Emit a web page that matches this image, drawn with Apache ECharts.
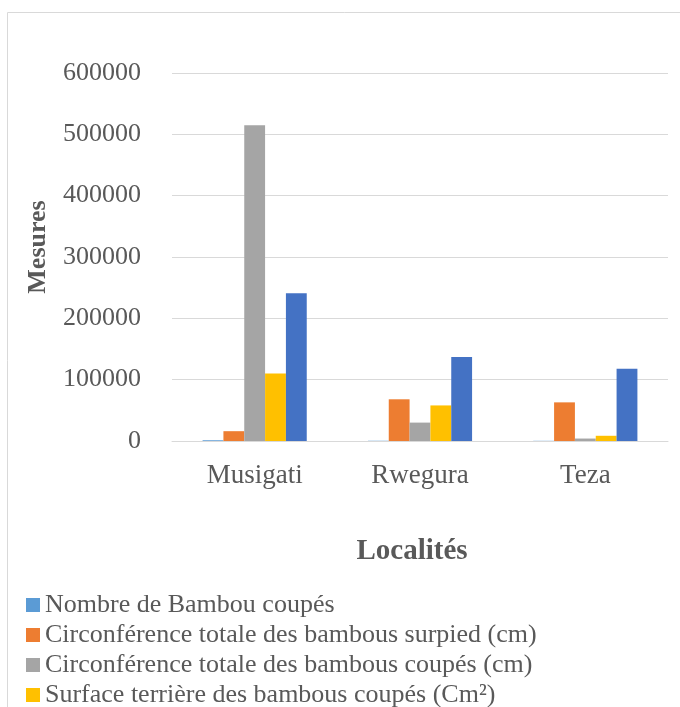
<!DOCTYPE html>
<html>
<head>
<meta charset="utf-8">
<script src="https://cdn.jsdelivr.net/npm/echarts@6/dist/echarts.min.js"></script>
<style>
  html, body { margin: 0; padding: 0; background: #fff; }
  #chart { width: 680px; height: 707px; }
</style>
</head>
<body>
<div id="chart"></div>
<script>
const categories = ['Musigati', 'Rwegura', 'Teza']
const seriesNames = [
  'Nombre de Bambou coupés',
  'Circonférence totale des bambous surpied (cm)',
  'Circonférence totale des bambous coupés (cm)',
  'Surface terrière des bambous coupés (Cm²)',
  'Surface terrière des bambous surpied (Cm²)',
]
const nombreCoupes = [1200, 400, 300]
const circSurpied = [16000, 68000, 63000]
const circCoupes = [515000, 30000, 4000]
const surfCoupes = [110000, 58000, 8500]
const surfSurpied = [241000, 137000, 118000]
const colors = ['#5B9BD5', '#ED7D31', '#A5A5A5', '#FFC000', '#4472C4']

const serif = '"Liberation Serif", "DejaVu Serif", serif'
const values = [nombreCoupes, circSurpied, circCoupes, surfCoupes, surfSurpied]

const chart = echarts.init(document.getElementById('chart'))
chart.setOption({
  animation: false,
  color: colors,
  textStyle: { fontFamily: serif },
  graphic: [
    {
      type: 'rect',
      shape: { x: 7.5, y: 12.5, width: 700, height: 720 },
      style: { fill: 'none', stroke: '#d9d9d9', lineWidth: 1 },
      silent: true,
    },
  ],
  grid: { left: 172, right: 12, top: 73, bottom: 266 },
  legend: {
    orient: 'vertical',
    left: 26,
    top: 590,
    padding: 0,
    height: 400,
    itemWidth: 14,
    itemHeight: 14,
    itemGap: 0,
    icon: 'rect',
    textStyle: { fontFamily: serif, fontSize: 26, color: '#595959', lineHeight: 30 },
    data: seriesNames,
  },
  xAxis: {
    type: 'category',
    data: categories,
    name: 'Localités',
    nameLocation: 'middle',
    nameGap: 96,
    nameTextStyle: { fontFamily: serif, fontSize: 29, fontWeight: 'bold', color: '#595959', padding: [0, 16, 0, 0] },
    axisLine: { lineStyle: { color: '#d9d9d9' } },
    axisTick: { show: false },
    axisLabel: { fontFamily: serif, fontSize: 27, color: '#595959', margin: 21 },
  },
  yAxis: {
    type: 'value',
    min: 0,
    max: 600000,
    interval: 100000,
    name: 'Mesures',
    nameLocation: 'middle',
    nameGap: 121,
    nameTextStyle: { fontFamily: serif, fontSize: 26, fontWeight: 'bold', color: '#595959', padding: [0, 0, 0, 20] },
    axisLine: { show: false },
    axisTick: { show: false },
    axisLabel: { fontFamily: serif, fontSize: 26, color: '#595959', margin: 31, formatter: v => String(v) },
    splitLine: { lineStyle: { color: '#d9d9d9', width: 1 } },
  },
  series: seriesNames.map((name, i) => ({
    name,
    type: 'bar',
    data: values[i],
    barGap: '0%',
    barCategoryGap: '37%',
  })),
})
</script>
</body>
</html>
